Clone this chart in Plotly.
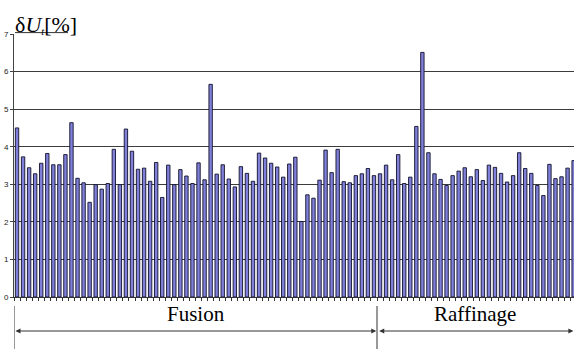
import plotly.graph_objects as go

# ---- data ----
values = [
    4.50, 3.73, 3.44, 3.28, 3.56, 3.82, 3.52, 3.52, 3.79, 4.64,
    3.16, 3.04, 2.52, 2.99, 2.87, 3.02, 3.93, 2.99, 4.47, 3.88,
    3.40, 3.43, 3.08, 3.58, 2.65, 3.51, 2.99, 3.39, 3.22, 3.02,
    3.57, 3.12, 5.66, 3.27, 3.52, 3.14, 2.93, 3.47, 3.29, 3.08,
    3.83, 3.70, 3.56, 3.46, 3.19, 3.54, 3.72, 2.01, 2.72, 2.63,
    3.11, 3.91, 3.31, 3.93, 3.07, 3.04, 3.23, 3.28, 3.42, 3.23,
    3.28, 3.51, 3.12, 3.79, 3.02, 3.19, 4.54, 6.51, 3.84, 3.28,
    3.13, 2.97, 3.23, 3.35, 3.44, 3.20, 3.39, 3.10, 3.51, 3.45,
    3.29, 3.06, 3.23, 3.84, 3.42, 3.29, 2.97, 2.70, 3.53, 3.15,
    3.20, 3.43, 3.63,
]
samples = list(range(1, len(values) + 1))
group_names = ["Fusion", "Raffinage"]
group_sizes = [60, 33]
y_ticks = [0, 1, 2, 3, 4, 5, 6, 7]

# ---- layout constants ----
W, H = 574, 349
ML, MR, MT, MB = 14, 0, 34, 52
plot_w = W - ML - MR
plot_h = H - MT - MB
px_per_cat = 6.05
x0 = samples[0] - 0.5
x1 = x0 + plot_w / px_per_cat

def ypaper(py):
    return (H - MB - py) / plot_h

fig = go.Figure()
fig.add_trace(go.Bar(
    x=samples, y=values,
    marker=dict(color="#8080DA", line=dict(color="#10102A", width=0.9)),
    showlegend=False,
))

fig.update_layout(
    width=W, height=H,
    margin=dict(l=ML, r=MR, t=MT, b=MB, autoexpand=False),
    paper_bgcolor="white", plot_bgcolor="white",
    bargap=0.44,
    font=dict(family="Arial, Liberation Sans", color="black"),
)
fig.update_xaxes(
    range=[x0, x1], showgrid=False, zeroline=False, automargin=False,
    showline=True, linecolor="#333", linewidth=1,
    ticks="outside", ticklen=3, tickcolor="#333",
    tick0=0.5, dtick=1, showticklabels=False,
)
fig.update_yaxes(
    range=[0, 7], tickvals=y_ticks, ticktext=[str(t) for t in y_ticks],
    automargin=False,
    showgrid=True, gridcolor="#3c3c3c", gridwidth=1,
    zeroline=False, showline=True, linecolor="#444", linewidth=1,
    ticks="outside", ticklen=3, tickcolor="#444",
    tickfont=dict(size=8, family="Arial, Liberation Sans", color="#222"),
)

# y-axis title
fig.add_annotation(
    xref="paper", yref="paper", x=0, y=1, xanchor="left", yanchor="bottom",
    xshift=-1, yshift=-5, showarrow=False,
    text="δ<i>U<span style='font-size:15px'><sub>t</sub></span></i>[%]",
    font=dict(family="Liberation Serif, Times New Roman, serif", size=22, color="black"),
)
fig.add_shape(type="line", xref="paper", yref="paper",
              x0=1 / plot_w, x1=54 / plot_w, y0=ypaper(32.6), y1=ypaper(32.6),
              line=dict(color="#333", width=1))

# group separators, arrows and labels
y_arrow = ypaper(331)
y_text = ypaper(314)
bounds = [x0]
for n in group_sizes:
    bounds.append(bounds[-1] + n)
bounds[-1] = min(bounds[-1], x1 - 0.1)

for i, name in enumerate(group_names):
    a, b = bounds[i], bounds[i + 1]
    gap = 0.12 if i > 0 else 0.0
    fig.add_annotation(
        xref="x", yref="paper", x=b - (0.12 if i == 0 else 0), y=y_arrow,
        axref="x", ayref="pixel", ax=a + gap, ay=0,
        text="", showarrow=True, arrowhead=2, startarrowhead=2,
        arrowside="end+start", arrowsize=1, arrowwidth=1, arrowcolor="#333",
    )
    fig.add_annotation(
        xref="x", yref="paper", x=(a + b) / 2, y=y_text, showarrow=False,
        text=name, yanchor="middle",
        font=dict(family="Liberation Serif, Times New Roman, serif", size=21, color="black"),
    )

for bx in bounds[:-1]:
    fig.add_shape(type="line", xref="x", yref="paper",
                  x0=bx, x1=bx, y0=ypaper(306), y1=ypaper(H + 2),
                  line=dict(color="#333", width=1))

fig.write_html(
    "out.html",
    config={"displayModeBar": False},
    post_script="document.body.style.margin='0';document.body.style.overflow='hidden';",
)
